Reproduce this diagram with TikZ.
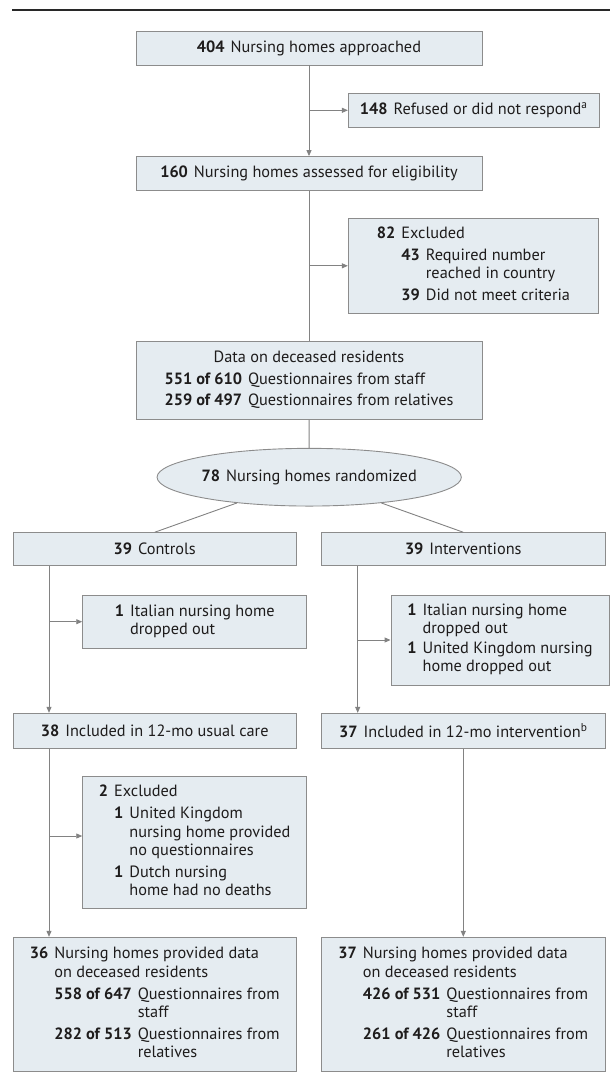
\documentclass[tikz,border=0pt]{standalone}
\usepackage{fontspec}
\setmainfont{PT Sans}
\usetikzlibrary{arrows.meta,shapes.geometric}
\definecolor{boxfill}{RGB}{229,236,241}
\definecolor{boxline}{RGB}{140,140,140}
\definecolor{conncol}{RGB}{130,130,130}
\definecolor{txt}{RGB}{30,28,28}
\definecolor{rulecol}{RGB}{40,40,40}
\newcommand\nb[1]{\textbf{#1}}
\newcommand\gap{\hspace{6pt}}

\begin{document}
\begin{tikzpicture}[x=1pt,y=-1pt,
  box/.style={draw=boxline, fill=boxfill, line width=0.9pt, inner sep=0pt,
    text=txt, font=\fontsize{16.3}{18.3}\selectfont},
  conn/.style={draw=conncol, line width=0.9pt},
  arr/.style={conn, -{Triangle[length=6pt,width=5pt]}}]
\useasboundingbox (0,0) rectangle (610,1088);
\draw[line width=1.5pt, draw=rulecol] (12,10) -- (610,10);

\node[box, minimum width=346pt, minimum height=33.3pt] (A) at (309,48.3)
  {\nb{404}\gap Nursing homes approached};
\node[box, minimum width=250.7pt, minimum height=34pt] (B) at (473.7,110.3)
  {\nb{148}\gap Refused or did not respond\textsuperscript{a}};
\node[box, minimum width=346pt, minimum height=33.5pt] (C) at (309,173.3)
  {\nb{160}\gap Nursing homes assessed for eligibility};
\node[box, minimum width=250.4pt, minimum height=95pt] (D) at (473.5,265.8)
  {\begin{tabular}{@{}r@{\gap}r@{\gap}l@{}}
   \nb{82} & \multicolumn{2}{@{}l@{}}{Excluded}\\[3.7pt]
   & \nb{43} & Required number\\
   & & reached in country\\[3.7pt]
   & \nb{39} & Did not meet criteria
   \end{tabular}};
\node[box, minimum width=346pt, minimum height=77.6pt] (E) at (309,380.5)
  {\begin{tabular}{@{}r@{\gap}l@{}}
   \multicolumn{2}{@{}c@{}}{Data on deceased residents}\\[3.4pt]
   \nb{551 of 610} & Questionnaires from staff\\[3.4pt]
   \nb{259 of 497} & Questionnaires from relatives
   \end{tabular}};
\node[box, ellipse, minimum width=298pt, minimum height=57.7pt] (F) at (309.2,477.2)
  {\nb{78}\gap Nursing homes randomized};
\node[box, minimum width=282.7pt, minimum height=33pt] (G) at (154.7,549.2)
  {\nb{39}\gap Controls};
\node[box, minimum width=283.3pt, minimum height=33pt] (H) at (463.3,549.2)
  {\nb{39}\gap Interventions};
\node[box, minimum width=224pt, minimum height=53.3pt] (I) at (194.7,621.7)
  {\begin{tabular}{@{}r@{\gap}l@{}}
   \nb{1} & Italian nursing home\\
   & dropped out
   \end{tabular}};
\node[box, minimum width=218pt, minimum height=90pt] (J) at (500,640)
  {\begin{tabular}{@{}r@{\gap}l@{}}
   \nb{1} & Italian nursing home\\
   & dropped out\\[1.5pt]
   \nb{1} & United Kingdom nursing\\
   & home dropped out
   \end{tabular}};
\node[box, minimum width=282.7pt, minimum height=35pt] (K) at (154.7,730.8)
  {\nb{38}\gap Included in 12-mo usual care};
\node[box, minimum width=283.3pt, minimum height=35pt] (L) at (463.3,730.8)
  {\nb{37}\gap Included in 12-mo intervention\textsuperscript{b}};
\node[box, minimum width=224pt, minimum height=131.6pt] (M) at (194.7,842.5)
  {\begin{tabular}{@{}r@{\gap}r@{\gap}l@{}}
   \nb{2} & \multicolumn{2}{@{}l@{}}{Excluded}\\[3.7pt]
   & \nb{1} & United Kingdom\\
   & & nursing home provided\\
   & & no questionnaires\\[3.7pt]
   & \nb{1} & Dutch nursing\\
   & & home had no deaths
   \end{tabular}};
\node[box, minimum width=282.7pt, minimum height=134.4pt] (N) at (154.7,1004.5)
  {\begin{tabular}{@{}r@{\gap}r@{\gap}l@{}}
   \nb{36} & \multicolumn{2}{@{}l@{}}{Nursing homes provided data}\\
   & \multicolumn{2}{@{}l@{}}{on deceased residents}\\[3.7pt]
   & \nb{558 of 647} & Questionnaires from\\
   & & staff\\[3.7pt]
   & \nb{282 of 513} & Questionnaires from\\
   & & relatives
   \end{tabular}};
\node[box, minimum width=283.3pt, minimum height=134.4pt] (O) at (463.3,1004.5)
  {\begin{tabular}{@{}r@{\gap}r@{\gap}l@{}}
   \nb{37} & \multicolumn{2}{@{}l@{}}{Nursing homes provided data}\\
   & \multicolumn{2}{@{}l@{}}{on deceased residents}\\[3.7pt]
   & \nb{426 of 531} & Questionnaires from\\
   & & staff\\[3.7pt]
   & \nb{261 of 426} & Questionnaires from\\
   & & relatives
   \end{tabular}};

\coordinate (ab) at (309,110.3);
\coordinate (cd) at (309,265.8);
\coordinate (gx) at (49,0);
\coordinate (hx) at (357.7,0);
\coordinate (km) at (49,836);

\draw[arr] (A) -- (C);
\draw[arr] (ab) -- (B.west);
\draw[conn] (C) -- (E);
\draw[arr] (cd) -- (D.west);
\draw[conn] (E) -- (F);
\draw[conn] (F) -- (G.north);
\draw[conn] (F) -- (H.north);
\draw[arr] (G.south -| gx) -- (K.north -| gx);
\draw[arr] (gx |- I.west) -- (I.west);
\draw[arr] (H.south -| hx) -- (L.north -| hx);
\draw[arr] (hx |- J.west) -- (J.west);
\draw[arr] (K.south -| gx) -- (N.north -| gx);
\draw[arr] (km) -- (km -| M.west);
\draw[arr] (L) -- (O);
\end{tikzpicture}
\end{document}
